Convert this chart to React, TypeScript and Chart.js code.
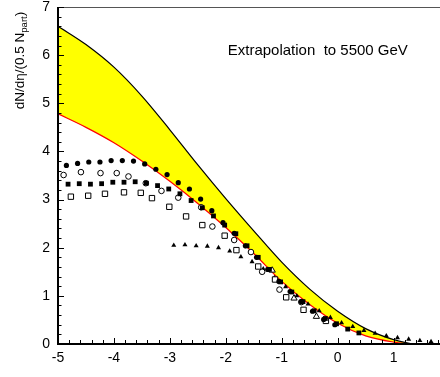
import React, { useEffect, useRef } from 'react';
import { Chart, registerables } from 'chart.js';

Chart.register(...registerables);

// ---- Band (extrapolation to 5500 GeV) ----
const bandEta = [-5, -4.5, -4, -3.5, -3, -2.5, -2, -1.5, -1, -0.5, 0, 0.5, 1, 1.3];
const bandUpper = [6.6, 6.22, 5.75, 5.15, 4.45, 3.72, 3.02, 2.35, 1.7, 1.14, 0.68, 0.32, 0.09, 0.01];
const bandLower = [4.78, 4.5, 4.18, 3.8, 3.38, 2.92, 2.42, 1.88, 1.3, 0.82, 0.43, 0.17, 0.04, 0.0];

// ---- Data series ----
const filledCircleEta = [-4.85, -4.65, -4.45, -4.25, -4.05, -3.85, -3.65, -3.45, -3.25, -3.05, -2.85, -2.65, -2.45, -2.25, -2.05, -1.85, -1.65, -1.45, -1.25, -1.05, -0.85, -0.65, -0.45, -0.25, -0.05];
const filledCircleY = [3.71, 3.75, 3.78, 3.78, 3.81, 3.81, 3.8, 3.74, 3.63, 3.52, 3.35, 3.22, 3.01, 2.77, 2.52, 2.3, 2.04, 1.8, 1.55, 1.3, 1.09, 0.88, 0.68, 0.51, 0.4];

const openCircleEta = [-4.9, -4.59, -4.24, -3.95, -3.74, -3.43, -3.15, -2.85, -2.44, -2.24, -1.85, -1.55, -1.35, -1.04, -0.65];
const openCircleY = [3.51, 3.57, 3.55, 3.55, 3.48, 3.34, 3.18, 3.04, 2.84, 2.44, 2.16, 1.91, 1.5, 1.13, 0.87];

const filledSquareEta = [-4.82, -4.62, -4.42, -4.22, -4.02, -3.82, -3.62, -3.42, -3.22, -3.02, -2.82, -2.62, -2.42, -2.22, -2.02, -1.82, -1.62, -1.42, -1.22, -1.02, -0.82, -0.62, -0.42, -0.22, -0.02, 0.18, 0.38];
const filledSquareY = [3.32, 3.33, 3.32, 3.33, 3.36, 3.36, 3.37, 3.34, 3.29, 3.22, 3.12, 2.98, 2.83, 2.66, 2.47, 2.29, 2.04, 1.8, 1.55, 1.29, 1.08, 0.88, 0.69, 0.53, 0.42, 0.31, 0.23];

const openSquareEta = [-4.77, -4.46, -4.16, -3.82, -3.52, -3.32, -3.01, -2.71, -2.42, -2.02, -1.81, -1.42, -1.12, -0.92, -0.61, -0.21];
const openSquareY = [3.06, 3.08, 3.12, 3.15, 3.14, 3.03, 2.85, 2.65, 2.47, 2.25, 1.95, 1.61, 1.34, 0.97, 0.71, 0.48];

const filledTriangleEta = [-2.93, -2.73, -2.53, -2.33, -2.13, -1.93, -1.73, -1.53, -1.33, -1.13, -0.93, -0.73, -0.53, -0.33, -0.13, 0.07, 0.27, 0.47, 0.67, 0.87, 1.07, 1.27, 1.47, 1.67];
const filledTriangleY = [2.05, 2.06, 2.04, 2.03, 2.0, 1.93, 1.81, 1.71, 1.56, 1.38, 1.19, 1.0, 0.83, 0.69, 0.55, 0.44, 0.36, 0.28, 0.22, 0.17, 0.13, 0.1, 0.07, 0.05];

const openTriangleEta = [-1.17, -0.78, -0.38];
const openTriangleY = [1.53, 0.95, 0.57];

// ---- Axes / text ----
const xMin = -5;
const xMax = 1.83;
const yMin = 0;
const yMax = 7;
const xTickLabels = [-5, -4, -3, -2, -1, 0, 1];
const yTickLabels = [0, 1, 2, 3, 4, 5, 6, 7];
const yTitleMain = 'dN/dη/(0.5 N';
const yTitleSub = 'part';
const yTitleTail = ')';
const annotationText = 'Extrapolation  to 5500 GeV';
const annotationAt = { x: -1.965, y: 6.0 };

const FONT = '"Liberation Sans", Arial, Helvetica, sans-serif';

const pts = (xs: number[], ys: number[]) => xs.map((x, i) => ({ x, y: ys[i] }));

const framePlugin = {
  id: 'frameTicks',
  afterDatasetsDraw(chart: any) {
    const { ctx, chartArea: a, scales } = chart;
    const xs = scales.x;
    const ys = scales.y;
    ctx.save();
    // top frame
    ctx.strokeStyle = '#555';
    ctx.lineWidth = 1.2;
    ctx.beginPath();
    ctx.moveTo(a.left, a.top + 0.5);
    ctx.lineTo(a.right, a.top + 0.5);
    ctx.stroke();
    // ticks
    ctx.strokeStyle = '#000';
    ctx.lineWidth = 1;
    for (let i = 0; i <= 35; i++) {
      const v = i / 5;
      const py = Math.round(ys.getPixelForValue(v)) + 0.5;
      const len = i % 5 === 0 ? 6 : 3.5;
      ctx.beginPath();
      ctx.moveTo(a.left, py);
      ctx.lineTo(a.left + len, py);
      ctx.stroke();
    }
    for (let i = -25; i <= 9; i++) {
      const v = i / 5;
      if (v > xMax) break;
      const px = Math.round(xs.getPixelForValue(v)) + 0.5;
      const len = i % 5 === 0 ? 6 : 4;
      ctx.beginPath();
      ctx.moveTo(px, a.bottom);
      ctx.lineTo(px, a.bottom - len);
      ctx.stroke();
    }
    // axes lines
    ctx.strokeStyle = '#000';
    ctx.lineWidth = 2;
    ctx.beginPath();
    ctx.moveTo(a.left, a.top);
    ctx.lineTo(a.left, a.bottom);
    ctx.lineTo(a.right, a.bottom);
    ctx.stroke();
    ctx.restore();
  },
  afterDraw(chart: any) {
    const { ctx, scales } = chart;
    const xs = scales.x;
    const ys = scales.y;
    ctx.save();
    // y title, rotated, aligned to the top end of the axis
    const mainFont = `13.5px ${FONT}`;
    const subFont = `9.5px ${FONT}`;
    ctx.font = mainFont;
    const w1 = ctx.measureText(yTitleMain).width;
    const w3 = ctx.measureText(yTitleTail).width;
    ctx.font = subFont;
    const w2 = ctx.measureText(yTitleSub).width;
    const total = w1 + w2 + w3;
    const endPy = ys.getPixelForValue(6.9);
    ctx.translate(23.5, endPy);
    ctx.rotate(-Math.PI / 2);
    ctx.fillStyle = '#000';
    ctx.textBaseline = 'alphabetic';
    let x = -total;
    ctx.font = mainFont;
    ctx.fillText(yTitleMain, x, 0);
    x += w1;
    ctx.font = subFont;
    ctx.fillText(yTitleSub, x, 3.5);
    x += w2;
    ctx.font = mainFont;
    ctx.fillText(yTitleTail, x, 0);
    ctx.restore();

    ctx.save();
    ctx.font = `15px ${FONT}`;
    ctx.fillStyle = '#000';
    ctx.textBaseline = 'alphabetic';
    ctx.textAlign = 'left';
    ctx.fillText(annotationText, xs.getPixelForValue(annotationAt.x), ys.getPixelForValue(annotationAt.y));
    ctx.restore();
  },
};

const zeroPad = (s: any) => {
  s.paddingTop = 0;
  s.paddingBottom = 0;
  s.paddingLeft = 0;
  s.paddingRight = 0;
};

export default function App() {
  const ref = useRef<HTMLCanvasElement | null>(null);
  useEffect(() => {
    document.body.style.margin = '0';
    if (!ref.current) return;
    const markerBase = { showLine: false };
    const chart = new Chart(ref.current, {
      type: 'scatter',
      data: {
        datasets: [
          { ...markerBase, data: pts(filledCircleEta, filledCircleY), pointStyle: 'circle', pointRadius: 2.6, backgroundColor: '#000', borderColor: '#000', borderWidth: 0 },
          { ...markerBase, data: pts(filledSquareEta, filledSquareY), pointStyle: 'rect', pointRadius: 3.4, backgroundColor: '#000', borderColor: '#000', borderWidth: 0 },
          { ...markerBase, data: pts(openCircleEta, openCircleY), pointStyle: 'circle', pointRadius: 2.8, backgroundColor: '#fff', borderColor: '#000', borderWidth: 1 },
          { ...markerBase, data: pts(openSquareEta, openSquareY), pointStyle: 'rect', pointRadius: 3.8, backgroundColor: '#fff', borderColor: '#000', borderWidth: 1 },
          { ...markerBase, data: pts(filledTriangleEta, filledTriangleY), pointStyle: 'triangle', pointRadius: 2.9, backgroundColor: '#000', borderColor: '#000', borderWidth: 0 },
          { ...markerBase, data: pts(openTriangleEta, openTriangleY), pointStyle: 'triangle', pointRadius: 3.6, backgroundColor: '#fff', borderColor: '#000', borderWidth: 1 },
          {
            type: 'line',
            data: pts(bandEta, bandUpper),
            borderColor: '#000',
            borderWidth: 1.2,
            pointRadius: 0,
            fill: '+1',
            backgroundColor: '#ffff00',
            cubicInterpolationMode: 'monotone',
          } as any,
          {
            type: 'line',
            data: pts(bandEta, bandLower),
            borderColor: '#ff0000',
            borderWidth: 1.2,
            pointRadius: 0,
            fill: false,
            cubicInterpolationMode: 'monotone',
          } as any,
        ],
      },
      options: {
        responsive: false,
        animation: false,
        layout: { autoPadding: false, padding: { top: 7, right: 0, left: 0, bottom: 0 } },
        plugins: {
          legend: { display: false },
          tooltip: { enabled: false },
          filler: { drawTime: 'beforeDatasetsDraw' },
        } as any,
        scales: {
          x: {
            type: 'linear',
            min: xMin,
            max: xMax,
            grid: { display: false, drawTicks: false },
            border: { display: false },
            afterBuildTicks: (s: any) => {
              s.ticks = xTickLabels.map((v) => ({ value: v }));
            },
            ticks: {
              stepSize: 1,
              includeBounds: false,
              autoSkip: false,
              maxRotation: 0,
              padding: 6,
              color: '#000',
              font: { family: FONT, size: 14 },
            },
            afterFit: (s: any) => {
              s.height = 33;
              zeroPad(s);
            },
          },
          y: {
            type: 'linear',
            min: yMin,
            max: yMax,
            grid: { display: false, drawTicks: false },
            border: { display: false },
            afterBuildTicks: (s: any) => {
              s.ticks = yTickLabels.map((v) => ({ value: v }));
            },
            ticks: {
              stepSize: 1,
              includeBounds: false,
              autoSkip: false,
              padding: 8,
              color: '#000',
              font: { family: FONT, size: 14 },
            },
            afterFit: (s: any) => {
              s.width = 58;
              zeroPad(s);
            },
          },
        },
      },
      plugins: [framePlugin],
    } as any);
    return () => chart.destroy();
  }, []);
  return <canvas ref={ref} width={440} height={377} style={{ display: 'block', width: 440, height: 377 }} />;
}
